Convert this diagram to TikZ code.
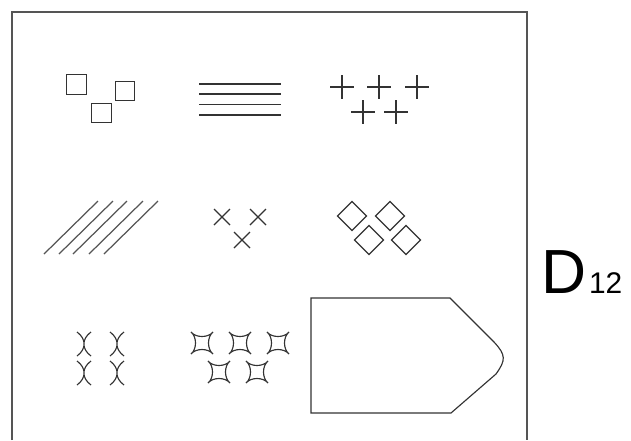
\documentclass[tikz,border=0pt]{standalone}
\usepackage{fontspec}
\setmainfont{Liberation Sans}
\usetikzlibrary{calc}
\definecolor{frameGrey}{HTML}{555555}
\definecolor{symGrey}{HTML}{333333}
\definecolor{hatchGrey}{HTML}{555555}

\begin{document}
\begin{tikzpicture}[x=0.02cm, y=-0.02cm,
  frame/.style={line width=1.1pt, draw=frameGrey},
  sym/.style={line width=0.65pt, draw=symGrey},
  hatch/.style={line width=0.7pt, draw=hatchGrey},
  tag/.style={inner sep=0pt, anchor=base west, text=black}]
  \useasboundingbox (0,0) rectangle (631,440);
  % frame, open at the bottom
  \draw[frame] (12,440) -- (12,12) -- (527,12) -- (527,440);
  % row 1: squares, lines, crosses
  \foreach \x/\y in {76.5/84.5, 125/91, 101.5/113}
    \draw[sym] (\x-9.8,\y-9.8) rectangle (\x+9.8,\y+9.8);
  \foreach \y in {84,94,104.5,115}
    \draw[sym] (199,\y) -- (281,\y);
  \foreach \x/\y in {342/87, 379/87, 417/87, 363/112, 396/112}
    \draw[sym] (\x-12,\y) -- (\x+12,\y) (\x,\y-12) -- (\x,\y+12);
  % row 2: hatching, saltires, diamonds
  \foreach \x in {44,59,73,89,104}
    \draw[hatch] (\x,254) -- ++(54,-53);
  \foreach \x/\y in {222/217, 258/217, 242/240}
    \draw[sym] (\x-8,\y-8) -- (\x+8,\y+8) (\x-8,\y+8) -- (\x+8,\y-8);
  \foreach \x/\y in {352/216, 390/216, 369/240, 406/240}
    \draw[sym] (\x-14.5,\y) -- (\x,\y-14.5) -- (\x+14.5,\y)
      -- (\x,\y+14.5) -- cycle;
  % row 3: curved crosses, star squares, pentagon
  \foreach \x/\y in {84/344, 117/344, 84/373, 117/373}
    \draw[sym] (\x-7,\y-12) .. controls (\x+2.5,\y-5) and (\x+2.5,\y+5) .. (\x-7,\y+12)
      (\x+7,\y-12) .. controls (\x-2.5,\y-5) and (\x-2.5,\y+5) .. (\x+7,\y+12);
  \foreach \x/\y in {202/343, 240/343, 278/343, 219/372, 257/372}
    \draw[sym] (\x-11,\y-11) .. controls (\x-6,\y-5) and (\x+6,\y-5) .. (\x+11,\y-11)
      .. controls (\x+5,\y-6) and (\x+5,\y+6) .. (\x+11,\y+11)
      .. controls (\x+6,\y+5) and (\x-6,\y+5) .. (\x-11,\y+11)
      .. controls (\x-5,\y+6) and (\x-5,\y-6) .. (\x-11,\y-11) -- cycle;
  \draw[sym] (311,298) -- (450,298) -- (494,342)
    .. controls (506,355) and (506,360) .. (496,374)
    -- (451,413) -- (311,413) -- cycle;
  % label
  \node[tag, font=\fontsize{35.5}{36}\selectfont] (D) at (541,293) {D};
  \node[tag, font=\fontsize{17}{18}\selectfont] (num) at ($(D.base east)+(2,0)$) {12};
\end{tikzpicture}
\end{document}
